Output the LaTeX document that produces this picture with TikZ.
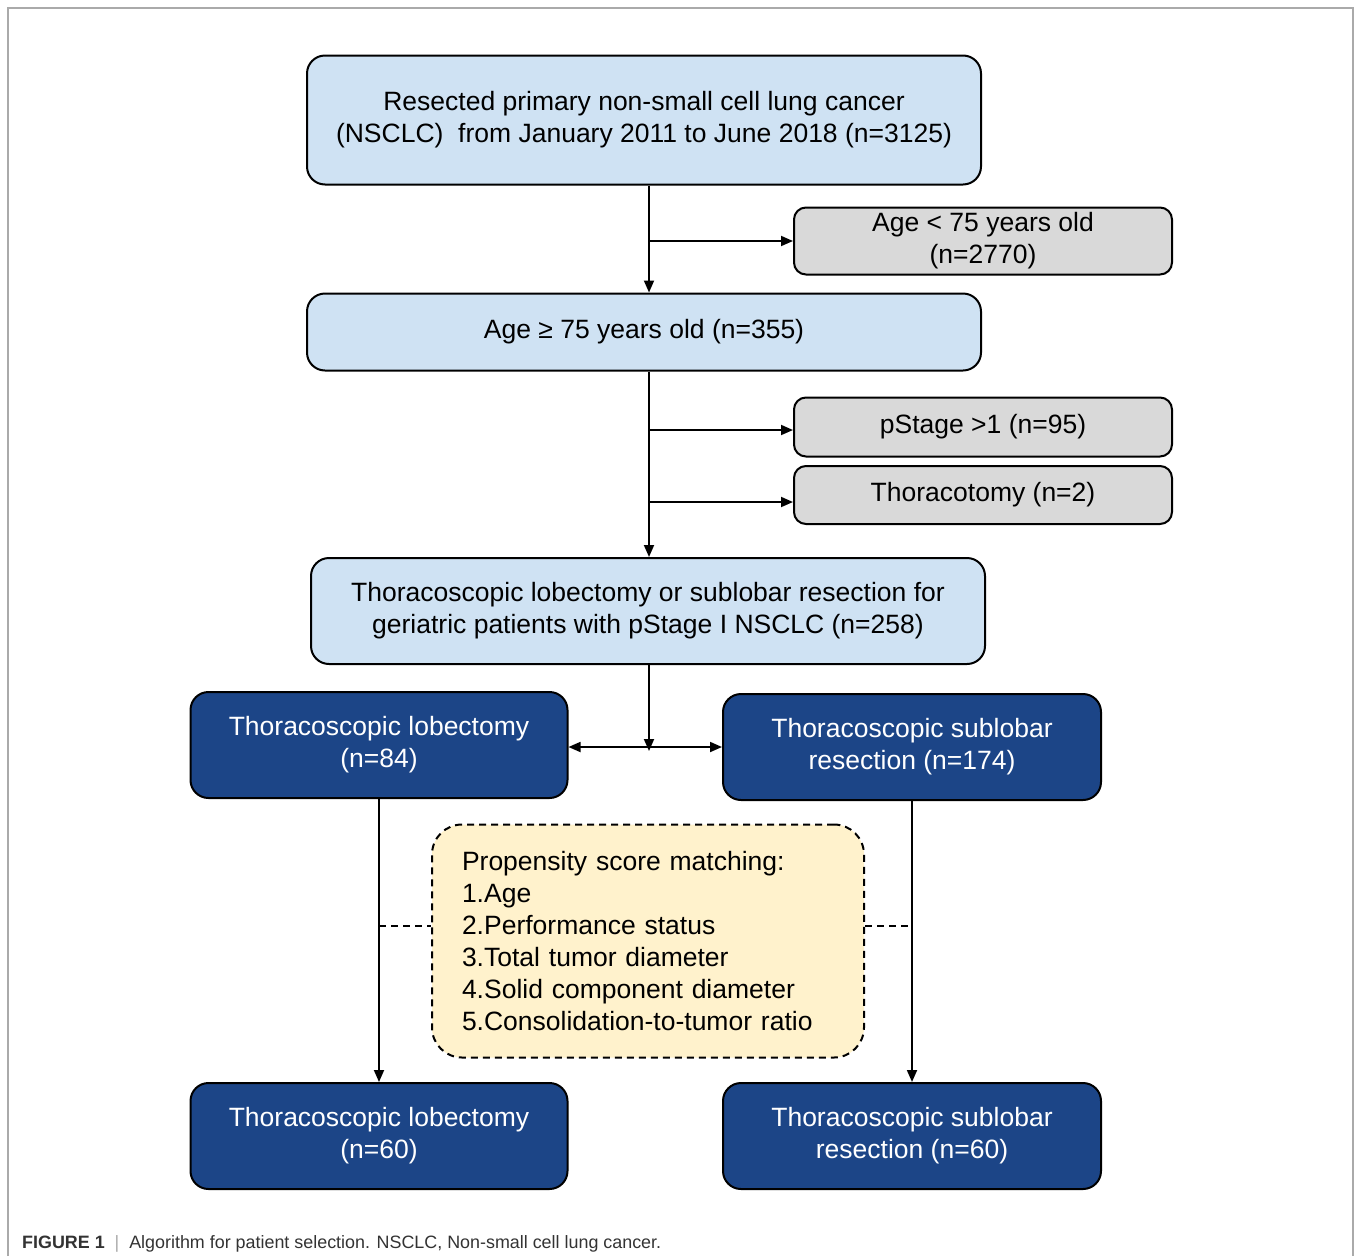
\documentclass[tikz,border=0pt]{standalone}
\usepackage{fontspec}
\setmainfont{Liberation Sans}
\usetikzlibrary{arrows.meta}
\definecolor{paleblue}{HTML}{CFE2F3}
\definecolor{palegray}{HTML}{D9D9D9}
\definecolor{navy}{HTML}{1C4587}
\definecolor{paleyellow}{HTML}{FFF2CC}
\definecolor{framegray}{HTML}{AAAAAA}
\definecolor{captiongray}{HTML}{333333}

\tikzset{
	box/.style={draw, line width=2pt, rounded corners=18pt, align=center,
		inner sep=0pt, font=\fontsize{26.5}{32}\selectfont},
	bluebox/.style={box, fill=paleblue},
	graybox/.style={box, fill=palegray, rounded corners=12pt},
	navybox/.style={box, fill=navy, text=white},
	arr/.style={line width=1.8pt, -{Triangle[length=12pt,width=10pt]}},
	twoarr/.style={line width=1.8pt, {Triangle[length=12pt,width=10pt]}-{Triangle[length=12pt,width=10pt]}},
	tie/.style={line width=1.8pt, dash pattern=on 7pt off 5pt}
}

\begin{document}
\begin{tikzpicture}[x=1pt,y=-1pt]

		\useasboundingbox (0,0) rectangle (1354,1256);
		\draw[color=framegray, line width=1.5pt] (8,1256) -- (8,8) -- (1353,8) -- (1353,1256);

		% main column
		\node[bluebox, minimum width=674pt, minimum height=129pt] (cohort) at (644,120)
			{Resected primary non-small cell lung cancer\\(NSCLC)\ \ from January 2011 to June 2018 (n=3125)};
		\node[bluebox, minimum width=674pt, minimum height=77pt] (elderly) at (644,332)
			{Age ≥ 75 years old (n=355)};
		\node[bluebox, minimum width=674pt, minimum height=106pt] (vats) at (648,611)
			{Thoracoscopic lobectomy or sublobar resection for\\geriatric patients with pStage I NSCLC (n=258)};

		% exclusions
		\node[graybox, minimum width=378pt, minimum height=67pt] (young) at (983,241)
			{Age < 75 years old\\(n=2770)};
		\node[graybox, minimum width=378pt, minimum height=59pt] (stage) at (983,427)
			{pStage >1 (n=95)};
		\node[graybox, minimum width=378pt, minimum height=58pt] (open) at (983,495)
			{Thoracotomy (n=2)};

		% groups
		\node[navybox, minimum width=377pt, minimum height=106pt] (lob) at (379,745)
			{Thoracoscopic lobectomy\\(n=84)};
		\node[navybox, minimum width=378pt, minimum height=106pt] (sub) at (912,747)
			{Thoracoscopic sublobar\\resection (n=174)};
		\node[navybox, minimum width=377pt, minimum height=106pt] (lobm) at (379,1136)
			{Thoracoscopic lobectomy\\(n=60)};
		\node[navybox, minimum width=378pt, minimum height=106pt] (subm) at (912,1136)
			{Thoracoscopic sublobar\\resection (n=60)};

		\node[box, fill=paleyellow, dash pattern=on 7pt off 5pt, rounded corners=30pt,
			align=left, text width=372pt, inner xsep=30pt, minimum height=233pt] (psm) at (648,941)
			{Propensity score matching:\\1.Age\\2.Performance status\\3.Total tumor diameter\\4.Solid component diameter\\5.Consolidation-to-tumor ratio};

		\coordinate (spine) at (649,0);
		\coordinate (split) at (649,747);
		\coordinate (tiey) at (0,926);

		% connectors
		\draw[arr] (cohort.south -| spine) -- (elderly.north -| spine);
		\draw[arr] (spine |- young.west) -- (young.west);
		\draw[arr] (elderly.south -| spine) -- (vats.north -| spine);
		\draw[arr] (spine |- 0,430) -- (stage.west |- 0,430);
		\draw[arr] (spine |- 0,502) -- (open.west |- 0,502);
		\draw[arr] (vats.south -| spine) -- ([yshift=-4pt]split);
		\draw[twoarr] (lob.east |- split) -- (sub.west |- split);
		\draw[arr] (lob.south) -- (lobm.north);
		\draw[arr] (sub.south) -- (subm.north);
		\draw[tie] (lob.south |- tiey) -- (psm.west |- tiey);
		\draw[tie] (psm.east |- tiey) -- (sub.south |- tiey);

		% caption
		\node[anchor=base west, inner sep=0pt, text=captiongray, font=\fontsize{17.9}{20}\selectfont] (caption) at (22,1248)
			{\textbf{FIGURE 1}\ \ {\color{framegray}|}\ \ Algorithm for patient selection. NSCLC, Non-small cell lung cancer.};

	\end{tikzpicture}
\end{document}
